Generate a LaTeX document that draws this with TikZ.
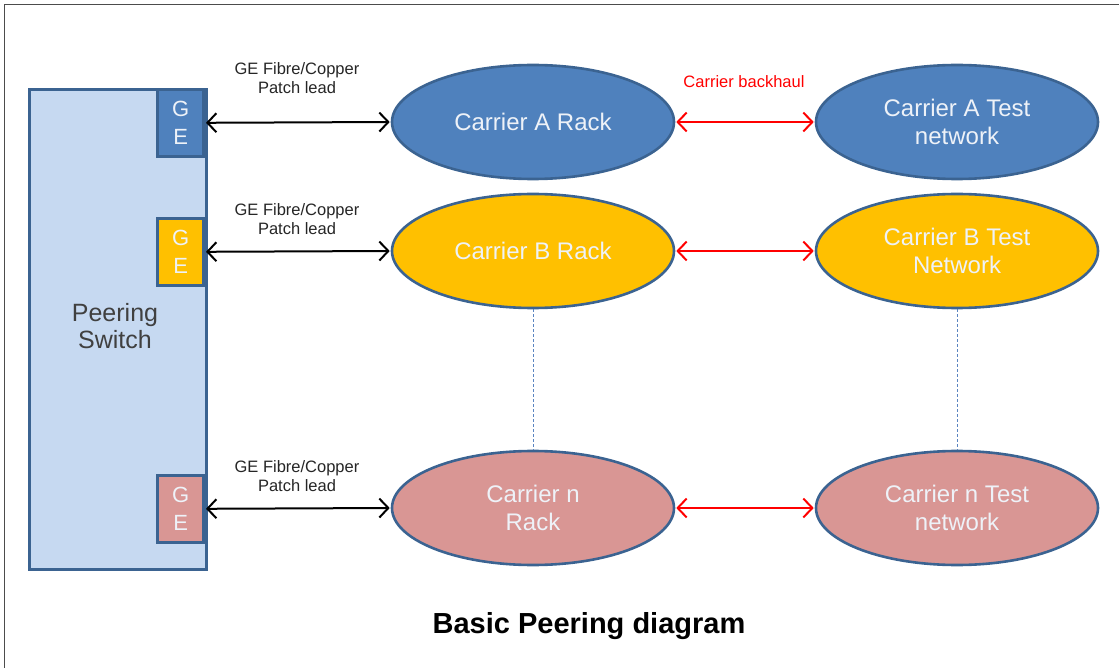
\documentclass[tikz,border=0pt]{standalone}
\usepackage{fontspec}
\setmainfont{Liberation Sans}
\usetikzlibrary{shapes.geometric,arrows.meta}
\definecolor{bluefill}{HTML}{4F81BD}
\definecolor{blueedge}{HTML}{3B6391}
\definecolor{switchfill}{HTML}{C6D9F1}
\definecolor{orangefill}{HTML}{FFC000}
\definecolor{pinkfill}{HTML}{D99694}
\definecolor{labeltext}{HTML}{EEF2F8}
\definecolor{dotline}{HTML}{5A84C0}
\tikzset{
  carrier/.style={ellipse, draw=blueedge, line width=2.6pt, minimum width=282pt,
    minimum height=114pt, inner sep=0pt, align=center, text=labeltext,
    font=\fontsize{24}{28}\selectfont},
  portbox/.style={draw=blueedge, line width=2.6pt, minimum width=46pt,
    minimum height=67pt, inner sep=0pt, align=center, text=labeltext,
    font=\fontsize{22}{28}\selectfont},
  tips/.style={{Straight Barb[length=9pt,width=19pt]}-{Straight Barb[length=9pt,width=19pt]},
    line width=2pt, shorten <=1pt, shorten >=1pt},
  patch/.style={tips, black},
  backhaul/.style={tips, red},
  leadlabel/.style={align=center, font=\fontsize{16.5}{19}\selectfont, text=black!85},
  stack/.style={dash pattern=on 3pt off 2pt, dotline, line width=1pt}
}
\begin{document}
\begin{tikzpicture}[x=1pt, y=-1pt]
\useasboundingbox (0,0) rectangle (1119,668);
% outer frame, only its top and left sides
\draw[gray!60!black, line width=1.8pt] (4.5,668) -- (4.5,4.5) -- (1119,4.5);

% peering switch with its three GE ports
\node[draw=blueedge, fill=switchfill, line width=2.6pt, minimum width=177pt,
  minimum height=480pt, inner sep=0pt, anchor=north west] (switch) at (28,88) {};
\node[align=center, text=black!75, font=\fontsize{25}{27}\selectfont] (swlabel) at (115,326) {Peering\\Switch};
\node[portbox, fill=bluefill, anchor=north east] (geA) at (205,88) {G\\E};
\node[portbox, fill=orangefill, anchor=north east] (geB) at (205,217) {G\\E};
\node[portbox, fill=pinkfill, anchor=north east] (geN) at (205,474) {G\\E};

% carrier racks and their test networks
\node[carrier, fill=bluefill] (rackA) at (533,122) {Carrier A Rack};
\node[carrier, fill=bluefill] (testA) at (957,122) {Carrier A Test\\network};
\node[carrier, fill=orangefill] (rackB) at (533,251) {Carrier B Rack};
\node[carrier, fill=orangefill] (testB) at (957,251) {Carrier B Test\\Network};
\node[carrier, fill=pinkfill] (rackN) at (533,508) {Carrier n\\Rack};
\node[carrier, fill=pinkfill] (testN) at (957,508) {Carrier n Test\\network};

% patch leads from the switch ports to the racks
\draw[patch] (geA.east) -- (rackA.west);
\draw[patch] (geB.east) -- (rackB.west);
\draw[patch] (geN.east) -- (rackN.west);
\node[leadlabel] (leadA) at (297,78) {GE Fibre/Copper\\Patch lead};
\node[leadlabel] (leadB) at (297,219) {GE Fibre/Copper\\Patch lead};
\node[leadlabel] (leadN) at (297,476) {GE Fibre/Copper\\Patch lead};

% carrier backhaul links
\draw[backhaul] (rackA.east) -- (testA.west);
\draw[backhaul] (rackB.east) -- (testB.west);
\draw[backhaul] (rackN.east) -- (testN.west);
\node[text=red, font=\fontsize{16.5}{19}\selectfont] (bhlabel) at (744,82) {Carrier backhaul};

% further carriers stacked between B and n
\draw[stack] (rackB.south) -- (rackN.north);
\draw[stack] (testB.south) -- (testN.north);

% title
\node[font=\bfseries\fontsize{29}{33}\selectfont] (title) at (589,626) {Basic Peering diagram};
\end{tikzpicture}
\end{document}
